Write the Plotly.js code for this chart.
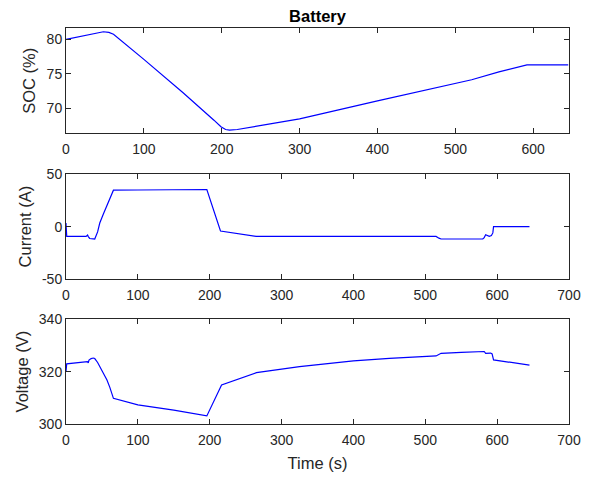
<!DOCTYPE html>
<html><head><meta charset="utf-8">
<script src="https://cdn.plot.ly/plotly-3.0.1.min.js"></script>
<style>html,body{margin:0;padding:0;background:#fff;}#chart{width:590px;height:477px;}</style>
</head><body><div id="chart"></div>
<script>
// SOC (%)
const socTime = [0, 10, 20, 30, 40, 48, 55, 61, 100, 150, 190, 199, 205, 210, 220, 250, 300, 400, 500, 521, 556, 592, 620, 645];
const socVals = [80.0, 80.25, 80.5, 80.72, 80.95, 81.1, 81.0, 80.75, 77.1, 72.3, 68.3, 67.35, 66.95, 66.85, 66.95, 67.5, 68.5, 71.1, 73.6, 74.15, 75.3, 76.3, 76.3, 76.3];
// Current (A)
const curTime = [0, 0.5, 1, 28, 30, 31, 32, 33, 38, 40, 44, 47, 52, 58, 66, 100, 150, 196, 215, 265, 300, 400, 515, 519, 522, 580, 582, 584, 586, 589, 592, 594, 595, 600, 645];
const curVals = [3.5, -3, -9.3, -9.3, -8.0, -9.5, -11.0, -11.3, -11.6, -11.8, -5, 3.5, 12, 22, 34.8, 35.0, 35.3, 35.5, -4.2, -9.3, -9.3, -9.3, -9.3, -11.0, -11.8, -11.8, -10.5, -7.8, -8.6, -9.3, -8.5, -6, 0, 0, 0];
// Voltage (V)
const volTime = [0, 0.5, 1, 29.7, 31, 32, 35, 38, 40, 44, 47, 52, 57, 61, 66, 100, 150, 196, 216.5, 265, 300, 325, 400, 450, 515, 518, 522, 550, 580, 582, 584, 588, 591, 593, 595, 645];
const volVals = [320.0, 322.5, 323.0, 323.8, 323.4, 324.4, 325.0, 325.2, 325.0, 323.5, 321.9, 319.5, 316.8, 314.0, 309.8, 307.3, 305.3, 303.1, 314.9, 319.6, 321.0, 321.9, 324.1, 325.1, 326.0, 326.5, 327.0, 327.4, 327.9, 327.7, 327.0, 327.1, 327.1, 326.8, 324.5, 322.5];

const tickLabels = {
  x1: [0, 100, 200, 300, 400, 500, 600],
  x2: [0, 100, 200, 300, 400, 500, 600, 700],
  y1: [70, 75, 80],
  y2: [-50, 0, 50],
  y3: [300, 320, 340]
};

const ink = '#262626';
const lineStyle = {color: '#0000ff', width: 1.2};
const fam = 'Liberation Sans, Arial, sans-serif';
const tf = {family: fam, size: 14, color: ink};
const titleFont = {family: fam, size: 16.5, color: ink};

function ax(extra) {
  return Object.assign({
    showgrid: false, zeroline: false, showline: true, linecolor: ink, linewidth: 1,
    mirror: 'ticks', ticks: 'inside', ticklen: 5, tickcolor: ink, tickwidth: 1,
    tickfont: tf, tickmode: 'array', fixedrange: true
  }, extra);
}

const H = 477;
function dom(top, bot) { return [1 - bot / H, 1 - top / H]; }

const traces = [
  {x: socTime, y: socVals, xaxis: 'x', yaxis: 'y', mode: 'lines', line: lineStyle, hoverinfo: 'skip'},
  {x: curTime, y: curVals, xaxis: 'x2', yaxis: 'y2', mode: 'lines', line: lineStyle, hoverinfo: 'skip'},
  {x: volTime, y: volVals, xaxis: 'x3', yaxis: 'y3', mode: 'lines', line: lineStyle, hoverinfo: 'skip'}
];

const layout = {
  width: 590, height: 477,
  margin: {l: 66, r: 20.5, t: 0, b: 0},
  paper_bgcolor: '#fff', plot_bgcolor: '#fff',
  showlegend: false,
  title: {text: '<b>Battery</b>', x: 0.5, xref: 'paper', y: 1 - 16.5 / H, yref: 'container', yanchor: 'middle', xanchor: 'center',
          font: {family: fam, size: 16.5, color: '#000'}},
  xaxis: ax({domain: [0, 1], anchor: 'y', range: [0, 646], tickvals: tickLabels.x1, ticktext: tickLabels.x1.map(String), ticklabelstandoff: 3}),
  yaxis: ax({domain: dom(28.3, 133.3), anchor: 'x', range: [66.4, 81.6], tickvals: tickLabels.y1, ticktext: tickLabels.y1.map(String),
             title: {text: 'SOC (%)', font: titleFont, standoff: 6}}),
  xaxis2: ax({domain: [0, 1], anchor: 'y2', range: [0, 700], tickvals: tickLabels.x2, ticktext: tickLabels.x2.map(String), ticklabelstandoff: 3}),
  yaxis2: ax({domain: dom(174.3, 279), anchor: 'x2', range: [-50, 50], tickvals: tickLabels.y2, ticktext: tickLabels.y2.map(String),
             title: {text: 'Current (A)', font: titleFont, standoff: 6}}),
  xaxis3: ax({domain: [0, 1], anchor: 'y3', range: [0, 700], tickvals: tickLabels.x2, ticktext: tickLabels.x2.map(String), ticklabelstandoff: 3,
             title: {text: 'Time (s)', font: titleFont, standoff: 10}}),
  yaxis3: ax({domain: dom(319.3, 424), anchor: 'x3', range: [300, 340], tickvals: tickLabels.y3, ticktext: tickLabels.y3.map(String),
             title: {text: 'Voltage (V)', font: titleFont, standoff: 6}})
};

Plotly.newPlot('chart', traces, layout, {staticPlot: true, displayModeBar: false});
</script>
</body></html>
